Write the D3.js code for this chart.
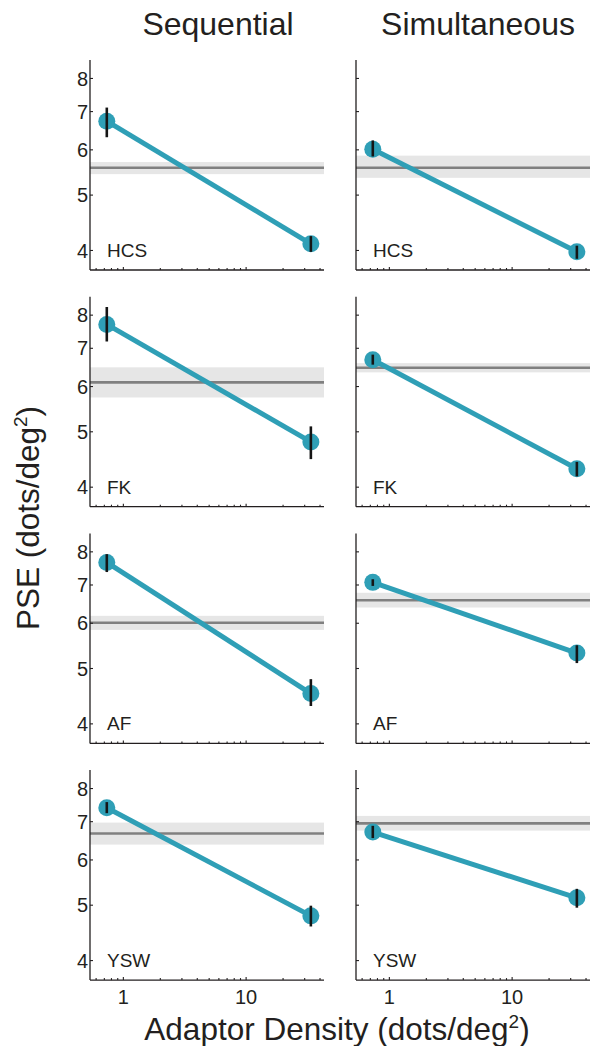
<!DOCTYPE html>
<html><head><meta charset="utf-8">
<script src="https://cdn.jsdelivr.net/npm/d3@7"></script>
<style>
html,body{margin:0;padding:0;background:#fff;}
svg{display:block;font-family:"Liberation Sans",Arial,Helvetica,sans-serif;}
</style></head>
<body>
<svg id="chart" width="593" height="1046"></svg>
<script>
// ---- data ----
const subjects = ["HCS", "FK", "AF", "YSW"];
const conditions = ["Sequential", "Simultaneous"];
const adaptorDensity = [0.74, 34];

const seqPSE  = [[6.72, 4.10], [7.69, 4.79], [7.65, 4.51], [7.39, 4.78]];
const seqLow  = [[6.30, 3.97], [7.18, 4.47], [7.36, 4.29], [7.23, 4.58]];
const seqHigh = [[7.10, 4.23], [8.25, 5.10], [7.91, 4.78], [7.56, 4.98]];

const simPSE  = [[6.00, 3.97], [6.67, 4.30], [7.06, 5.31], [6.70, 5.14]];
const simLow  = [[5.83, 3.86], [6.54, 4.17], [6.96, 5.10], [6.54, 4.94]];
const simHigh = [[6.22, 4.07], [6.81, 4.42], [7.15, 5.48], [6.87, 5.33]];

const seqBaseline = [5.57, 6.09, 6.00, 6.66];
const seqBandLow  = [5.43, 5.73, 5.83, 6.37];
const seqBandHigh = [5.70, 6.47, 6.17, 6.96];

const simBaseline = [5.57, 6.46, 6.57, 6.94];
const simBandLow  = [5.35, 6.34, 6.38, 6.74];
const simBandHigh = [5.85, 6.58, 6.77, 7.15];

const yTicks = [4, 5, 6, 7, 8];
const xMajorTicks = [1, 10];
const xMinorTicks = [0.6, 0.7, 0.8, 0.9, 2, 3, 4, 5, 6, 7, 8, 9, 20, 30, 40];

// ---- layout ----
const svg = d3.select("#chart");
const txt = "#231f20";
const teal = "#2f9fb6";
const colLeft = [90, 356];
const panelW = 234;
const rowTop0 = 60, rowStep = 236.7, panelH = 210;

const x = d3.scaleLog().domain([0.54, 43.5]).range([0, panelW]);
const y = d3.scaleLog().domain([3.69, 8.6]).range([panelH, 0]);

const series = [
  {pse: seqPSE, lo: seqLow, hi: seqHigh, base: seqBaseline, bLo: seqBandLow, bHi: seqBandHigh},
  {pse: simPSE, lo: simLow, hi: simHigh, base: simBaseline, bLo: simBandLow, bHi: simBandHigh}
];

subjects.forEach((subj, r) => {
  conditions.forEach((cond, c) => {
    const s = series[c];
    const g = svg.append("g")
      .attr("transform", `translate(${colLeft[c]},${rowTop0 + r * rowStep})`);

    // baseline band
    g.append("rect")
      .attr("x", 0).attr("width", panelW)
      .attr("y", y(s.bHi[r])).attr("height", y(s.bLo[r]) - y(s.bHi[r]))
      .attr("fill", "#e6e6e6");
    g.append("line")
      .attr("x1", 0).attr("x2", panelW)
      .attr("y1", y(s.base[r])).attr("y2", y(s.base[r]))
      .attr("stroke", "#808080").attr("stroke-width", 2.6);

    // y axis
    const ya = d3.axisRight(y).tickValues(yTicks).tickSize(3)
      .tickFormat(c === 0 ? d3.format("d") : () => "");
    const yag = g.append("g").call(ya);
    yag.select(".domain").attr("stroke", txt).attr("stroke-width", 1.3)
      .attr("d", `M0,0V${panelH}`);
    yag.selectAll(".tick line").attr("stroke", txt).attr("stroke-width", 1.2);
    yag.selectAll(".tick text").attr("x", -2).attr("text-anchor", "end")
      .attr("font-size", 20).attr("fill", txt).attr("dy", "0.36em");

    // x axis
    const xag = g.append("g").attr("transform", `translate(0,${panelH})`);
    xag.call(d3.axisTop(x).tickValues(xMinorTicks).tickSize(2).tickFormat(""));
    const xmaj = g.append("g").attr("transform", `translate(0,${panelH})`)
      .call(d3.axisTop(x).tickValues(xMajorTicks).tickSize(3).tickFormat(""));
    xmaj.select(".domain").remove();
    xag.select(".domain").attr("stroke", txt).attr("stroke-width", 1.3)
      .attr("d", `M0,0H${panelW}`);
    g.selectAll(".tick line").attr("stroke", txt).attr("stroke-width", 1.1);
    if (r === subjects.length - 1) {
      const lab = g.append("g").attr("transform", `translate(0,${panelH})`)
        .call(d3.axisBottom(x).tickValues(xMajorTicks).tickSize(0).tickPadding(10)
          .tickFormat(d3.format("d")));
      lab.select(".domain").remove();
      lab.selectAll("text").attr("font-size", 20).attr("fill", txt);
    }

    // data line
    const pts = adaptorDensity.map((d, i) => ({x: d, v: s.pse[r][i], lo: s.lo[r][i], hi: s.hi[r][i]}));
    g.append("path").datum(pts)
      .attr("d", d3.line().x(d => x(d.x)).y(d => y(d.v)))
      .attr("fill", "none").attr("stroke", teal).attr("stroke-width", 5);
    g.selectAll("circle.pt").data(pts).enter().append("circle")
      .attr("cx", d => x(d.x)).attr("cy", d => y(d.v)).attr("r", 8.5)
      .attr("fill", teal);
    g.selectAll("line.err").data(pts).enter().append("line")
      .attr("x1", d => x(d.x)).attr("x2", d => x(d.x))
      .attr("y1", d => y(d.lo)).attr("y2", d => y(d.hi))
      .attr("stroke", "#151515").attr("stroke-width", 2.6);

    // subject label
    g.append("text").attr("x", 17).attr("y", panelH - 13)
      .attr("font-size", 19).attr("fill", txt).text(subj);
  });
});

// column titles
const titleX = [218, 478];
conditions.forEach((cond, c) => {
  svg.append("text").attr("x", titleX[c]).attr("y", 35)
    .attr("text-anchor", "middle").attr("font-size", 32).attr("fill", txt).text(cond);
});

// axis titles
const xt = svg.append("text").attr("x", 337).attr("y", 1040)
  .attr("text-anchor", "middle").attr("font-size", 31.5).attr("fill", txt);
xt.append("tspan").text("Adaptor Density (dots/deg");
xt.append("tspan").attr("font-size", 19).attr("dy", -12).text("2");
xt.append("tspan").attr("dy", 12).text(")");

const yt = svg.append("text").attr("transform", "translate(39,518) rotate(-90)")
  .attr("text-anchor", "middle").attr("font-size", 31.5).attr("fill", txt);
yt.append("tspan").text("PSE (dots/deg");
yt.append("tspan").attr("font-size", 19).attr("dy", -12).text("2");
yt.append("tspan").attr("dy", 12).text(")");
</script>
</body></html>
